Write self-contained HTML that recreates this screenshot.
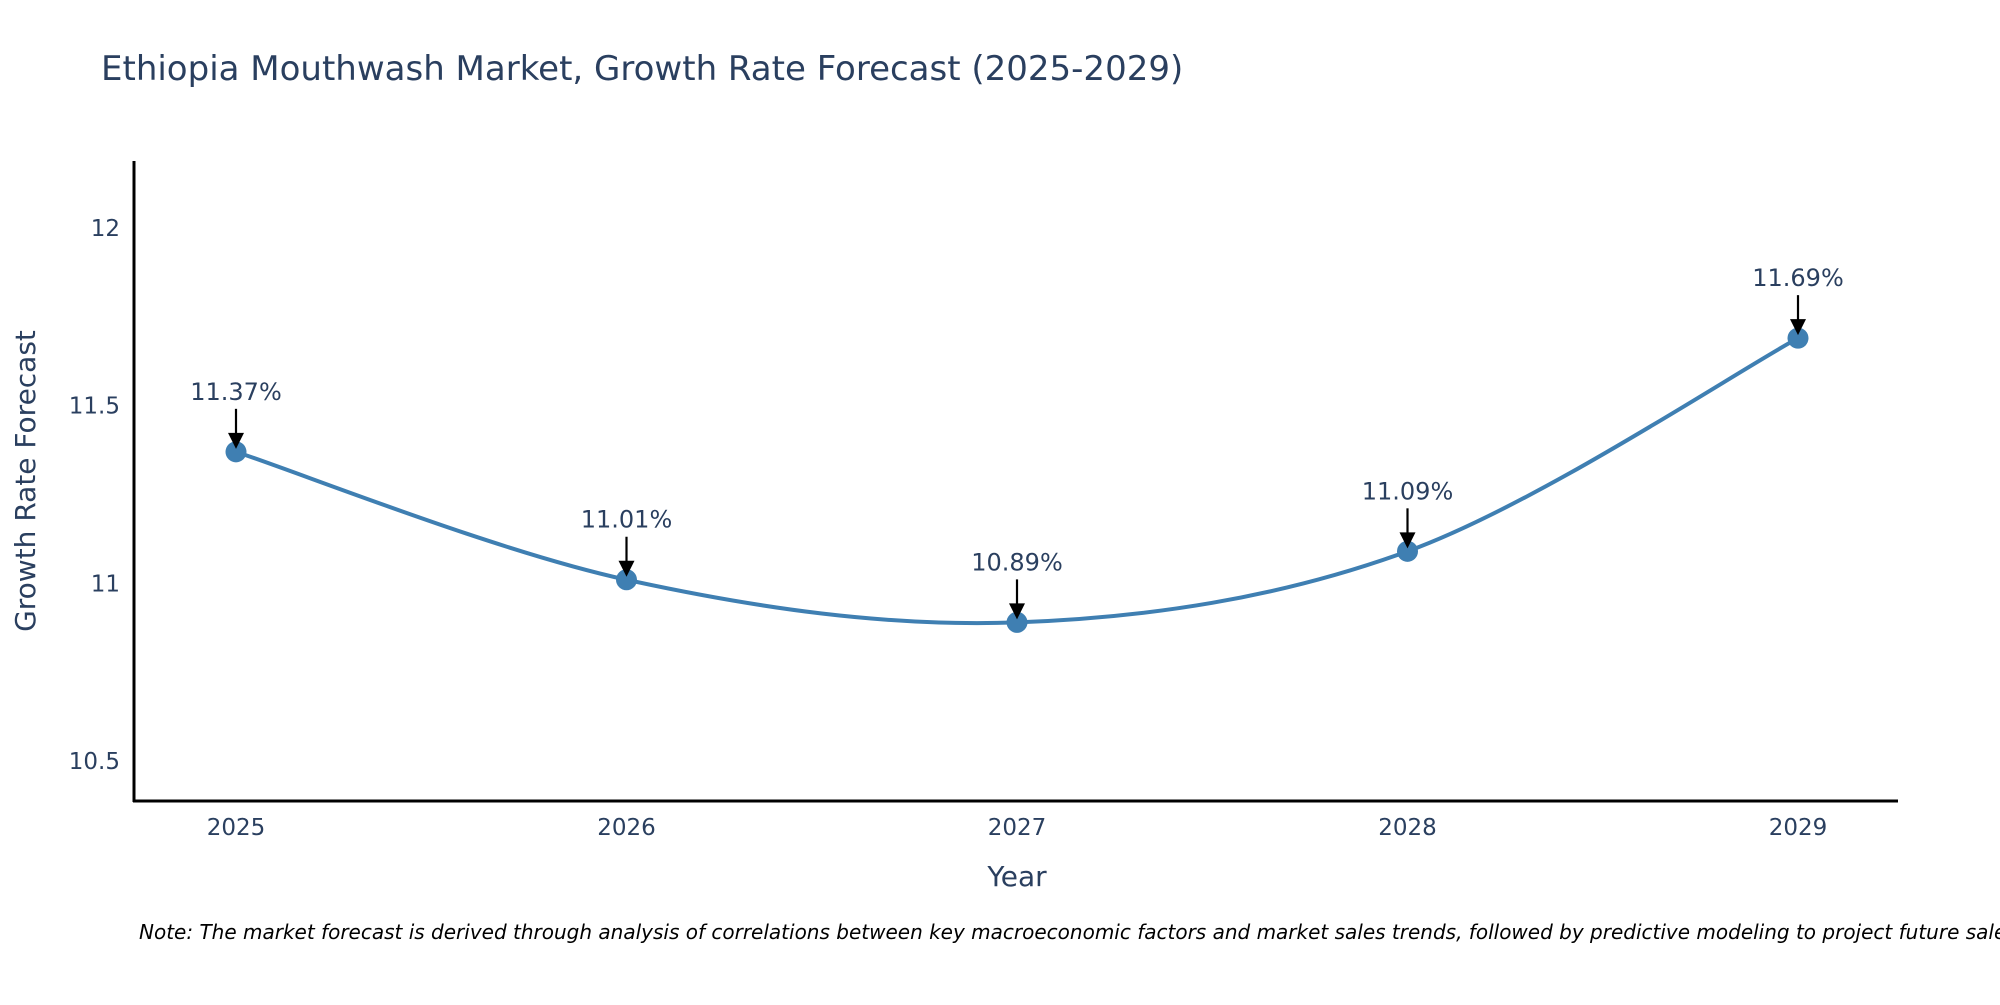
<!DOCTYPE html>
<html><head><meta charset="utf-8"><style>
body{margin:0;background:#fff}
svg text{font-family:"DejaVu Sans","Liberation Sans",sans-serif;fill:#2a3f5f}
</style></head><body>
<svg id="chart" width="2000" height="1000" xmlns="http://www.w3.org/2000/svg">
<text x="101" y="80" font-size="34">Ethiopia Mouthwash Market, Growth Rate Forecast (2025-2029)</text>
<g id="yticks"></g>
<g id="xticks"></g>
<path id="line" fill="none" stroke="#3f7fb2" stroke-width="4"/>
<g id="points"></g>
<line x1="134" y1="161" x2="134" y2="802" stroke="#000" stroke-width="3"/>
<line x1="133" y1="801" x2="1898" y2="801" stroke="#000" stroke-width="3"/>
<text transform="translate(35,481) rotate(-90)" text-anchor="middle" font-size="28">Growth Rate Forecast</text>
<text x="1017" y="886" text-anchor="middle" font-size="28">Year</text>
<text x="139" y="939" font-size="20" font-style="italic" style="fill:#000">Note: The market forecast is derived through analysis of correlations between key macroeconomic factors and market sales trends, followed by predictive modeling to project future sales.</text>
</svg>
<script>
const years=[2025,2026,2027,2028,2029];
const values=[11.37,11.01,10.89,11.09,11.69];
const labels=["11.37%","11.01%","10.89%","11.09%","11.69%"];
const yTicks=[10.5,11,11.5,12];
const yTickLabels=["10.5","11","11.5","12"];
const NS="http://www.w3.org/2000/svg";
function X(yr){return 236+(yr-2025)*390.5;}
function Y(v){return 228+(12-v)*355.3;}
function mk(tag,attrs,parent,txt){const e=document.createElementNS(NS,tag);for(const k in attrs)e.setAttribute(k,attrs[k]);if(txt!==undefined)e.textContent=txt;parent.appendChild(e);return e;}
const yt=document.getElementById('yticks');
yTicks.forEach((t,i)=>{const e=mk('text',{x:120,y:Y(t)+8,'text-anchor':'end','font-size':23},yt,yTickLabels[i]);

});
const xt=document.getElementById('xticks');
years.forEach(yr=>{const e=mk('text',{x:X(yr),y:835,'text-anchor':'middle','font-size':23},xt,String(yr));

});
const P=years.map((yr,i)=>[X(yr),Y(values[i])]);
let d='M'+P[0][0]+','+P[0][1];
const s=1/6;
for(let i=0;i<P.length-1;i++){const p0=P[Math.max(i-1,0)],p1=P[i],p2=P[i+1],p3=P[Math.min(i+2,P.length-1)];
const c1=[p1[0]+(p2[0]-p0[0])*s,p1[1]+(p2[1]-p0[1])*s],c2=[p2[0]-(p3[0]-p1[0])*s,p2[1]-(p3[1]-p1[1])*s];
d+=' C'+c1.join(',')+' '+c2.join(',')+' '+p2.join(',');}
document.getElementById('line').setAttribute('d',d);
const pts=document.getElementById('points');
P.forEach((p,i)=>{
const c=mk('circle',{cx:p[0],cy:p[1],r:10.5,fill:'#3f7fb2'},pts);


const l=mk('line',{x1:p[0],y1:p[1]-43,x2:p[0],y2:p[1]-16,stroke:'#000','stroke-width':2.2},pts);


const h=mk('polygon',{points:(p[0]-8)+','+(p[1]-19)+' '+(p[0]+8)+','+(p[1]-19)+' '+p[0]+','+(p[1]-3),fill:'#000'},pts);


const t=mk('text',{x:p[0],y:p[1]-52,'text-anchor':'middle','font-size':24},pts,labels[i]);


});
</script>
</body></html>
